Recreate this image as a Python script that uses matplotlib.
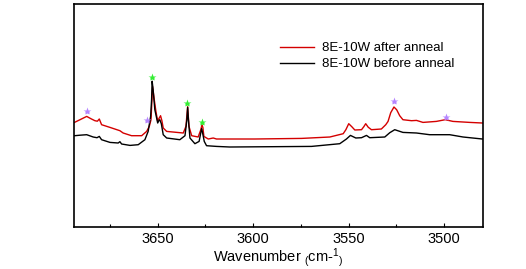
import matplotlib
matplotlib.use('Agg')
import matplotlib.pyplot as plt

plt.rcParams['font.family'] = ['Liberation Sans', 'DejaVu Sans']
plt.rcParams['mathtext.fontset'] = 'custom'
plt.rcParams['mathtext.rm'] = 'Liberation Sans'
plt.rcParams['mathtext.it'] = 'Liberation Sans'

# spectra (arbitrary absorbance units)
wn_after = [3693.6, 3690.7, 3687.2, 3685.0, 3682.9, 3681.6, 3680.6, 3679.4, 3675.0, 3669.8,
            3668.1, 3663.7, 3658.4, 3655.8, 3654.4, 3653.5, 3653.0, 3652.7, 3651.8, 3650.9,
            3650.0, 3649.4, 3648.5, 3647.8, 3647.1, 3645.3, 3641.0, 3636.6, 3635.2, 3634.3,
            3633.6, 3632.2, 3628.8, 3627.4, 3626.8, 3626.3, 3625.8, 3623.5, 3620.9, 3619.2,
            3606.9, 3599.1, 3574.6, 3559.8, 3552.8, 3551.4, 3549.9, 3548.3, 3546.7, 3543.2,
            3542.0, 3541.0, 3539.7, 3538.0, 3532.8, 3530.5, 3529.3, 3527.9, 3526.2, 3524.8,
            3523.2, 3521.5, 3517.0, 3514.4, 3511.0, 3504.0, 3499.3, 3495.3, 3486.5, 3479.9]
a_after = [1.043, 1.07, 1.103, 1.08, 1.06, 1.055, 1.077, 1.02, 0.993, 0.96,
           0.937, 0.91, 0.91, 0.953, 1.003, 1.07, 1.27, 1.403, 1.27, 1.15,
           1.053, 1.08, 1.11, 1.06, 0.987, 0.953, 0.945, 0.937, 1.003, 1.2,
           1.003, 0.91, 0.897, 0.97, 1.02, 0.99, 0.903, 0.877, 0.887, 0.877,
           0.877, 0.877, 0.883, 0.897, 0.93, 0.97, 1.03, 1.0, 0.967, 0.97,
           1.0, 1.03, 0.995, 0.97, 0.977, 1.02, 1.053, 1.14, 1.197, 1.17,
           1.11, 1.07, 1.06, 1.063, 1.043, 1.053, 1.07, 1.053, 1.043, 1.037]

wn_before = [3693.5, 3690.7, 3687.2, 3683.8, 3681.8, 3680.6, 3679.4, 3675.0, 3670.7, 3669.8,
             3668.9, 3664.5, 3660.2, 3656.7, 3655.0, 3653.7, 3653.2, 3652.9, 3652.4, 3651.5,
             3650.0, 3649.4, 3648.9, 3648.1, 3647.1, 3645.3, 3638.4, 3635.7, 3634.7, 3634.3,
             3633.9, 3633.1, 3630.5, 3628.3, 3627.0, 3626.6, 3625.6, 3624.4, 3619.2, 3612.2,
             3569.4, 3554.6, 3551.1, 3549.0, 3546.2, 3543.2, 3540.6, 3538.9, 3531.0, 3528.4,
             3525.8, 3521.5, 3514.4, 3507.5, 3497.0, 3490.0, 3479.9]
a_before = [0.91, 0.915, 0.92, 0.897, 0.89, 0.903, 0.87, 0.843, 0.837, 0.85,
            0.827, 0.813, 0.82, 0.87, 0.953, 1.103, 1.27, 1.455, 1.37, 1.17,
            1.037, 1.06, 1.07, 1.03, 0.92, 0.887, 0.87, 0.91, 1.07, 1.193,
            1.07, 0.887, 0.83, 0.853, 0.98, 0.95, 0.853, 0.81, 0.803, 0.797,
            0.803, 0.83, 0.877, 0.913, 0.887, 0.89, 0.913, 0.89, 0.897, 0.94,
            0.97, 0.943, 0.937, 0.92, 0.92, 0.897, 0.877]

# peak markers
purple_wn = [3687.1, 3655.5, 3526.3, 3499.1]
purple_a = [1.16, 1.07, 1.253, 1.10]
green_wn = [3652.9, 3634.4, 3626.8]
green_a = [1.50, 1.24, 1.05]

fig = plt.figure(figsize=(5.26, 2.69), dpi=100)
ax = fig.add_axes([0.1416, 0.1572, 0.7761, 0.8261])

ax.plot(wn_after, a_after, color='#d40000', lw=1.0, label='8E-10W after anneal')
ax.plot(wn_before, a_before, color='black', lw=1.0, label='8E-10W before anneal')
ax.plot(purple_wn, purple_a, ls='none', marker='*', ms=6, color='#b585ff', mec='none')
ax.plot(green_wn, green_a, ls='none', marker='*', ms=6, color='#33ee33', mec='none')

ax.set_xlim(3693.6, 3479.7)
ax.set_ylim(0.0, 2.222)
ax.set_yticks([])
ax.set_xticks([3650, 3600, 3550, 3500])
ax.set_xticks([3675, 3625, 3575, 3525], minor=True)
ax.tick_params(axis='x', which='both', direction='in', labelsize=10.5, pad=4)
ax.tick_params(axis='x', which='major', length=3, width=0.8)
ax.tick_params(axis='x', which='minor', length=2, width=0.8)
for s in ax.spines.values():
    s.set_linewidth(1.2)

ax.set_xlabel('Wavenumber $_($cm-$^1$$_)$', fontsize=10.5, labelpad=0)

ax.legend(loc='upper right', bbox_to_anchor=(0.96, 0.885), frameon=False, fontsize=9.5,
          handlelength=2.6, handletextpad=0.6, labelspacing=0.3)

fig.savefig('out.png', dpi=100)
